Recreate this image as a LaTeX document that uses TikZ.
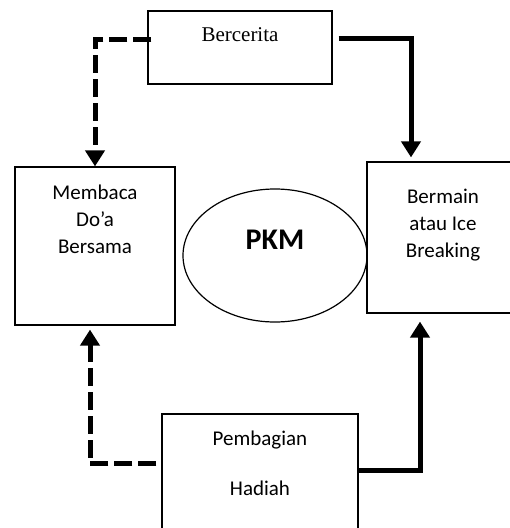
\documentclass[tikz,border=0pt]{standalone}
\usepackage{fontspec}
\setmainfont{Carlito}
\newfontfamily\timesfont{Liberation Serif}
\usetikzlibrary{positioning,arrows.meta,shapes.geometric}

\tikzset{
  box/.style={draw, line width=1.2pt, inner sep=0pt},
  txt/.style={inner sep=0pt, align=center, font=\fontsize{21}{27}\selectfont},
  dashline/.style={line width=5pt, dash pattern=on 18pt off 6pt},
  fullline/.style={line width=5pt},
  tip/.style={-{Triangle[width=19pt,length=16pt]}}
}

\begin{document}
\begin{tikzpicture}[x=1pt, y=-1pt]
    \clip (0,0) rectangle (510,528);
    \node (bcr) [box, minimum width=184pt, minimum height=73pt] at (240,47.5) {};
    \node (bcrt) [txt, font=\timesfont\fontsize{21}{27}\selectfont, below=17pt of bcr.north] {Bercerita};
    \node (mem) [box, minimum width=160pt, minimum height=158pt] at (95,246) {};
    \node (memt) [txt, below=18pt of mem.north] {Membaca\\Do’a\\Bersama};
    \node (bmn) [box, minimum width=152pt, minimum height=151pt] at (443,237.5) {};
    \node (bmnt) [txt, below=27pt of bmn.north] {Bermain\\atau Ice\\Breaking};
    \node (pkm) [ellipse, draw, line width=1.2pt, inner sep=0pt,
      minimum width=184pt, minimum height=133pt] at (275,255.5) {};
    \node (pkmt) [inner sep=0pt, font=\bfseries\fontsize{30}{36}\selectfont,
      below=41pt of pkm.north] {PKM};
    \node (pmb) [box, minimum width=196pt, minimum height=130pt] at (260,479) {};
    \node (pmbt) [txt, below=17pt of pmb.north] {Pembagian\\[23pt]Hadiah};

    % connectors
    \draw [dashline, tip] ([xshift=4pt, yshift=-29pt]bcr.north west) -| (mem.north);
    \draw [fullline, tip, shorten <=6pt, shorten >=4pt]
      ([yshift=-28pt]bcr.north east) -| ([xshift=-32pt]bmn.north);
    \draw [dashline, tip, shorten <=5pt, shorten >=4pt]
      ([yshift=-50pt]pmb.north west) -| ([xshift=-5pt]mem.south);
    \draw [fullline, tip, shorten >=8pt]
      ([yshift=-57pt]pmb.north east) -| ([xshift=-23pt]bmn.south);
\end{tikzpicture}
\end{document}
